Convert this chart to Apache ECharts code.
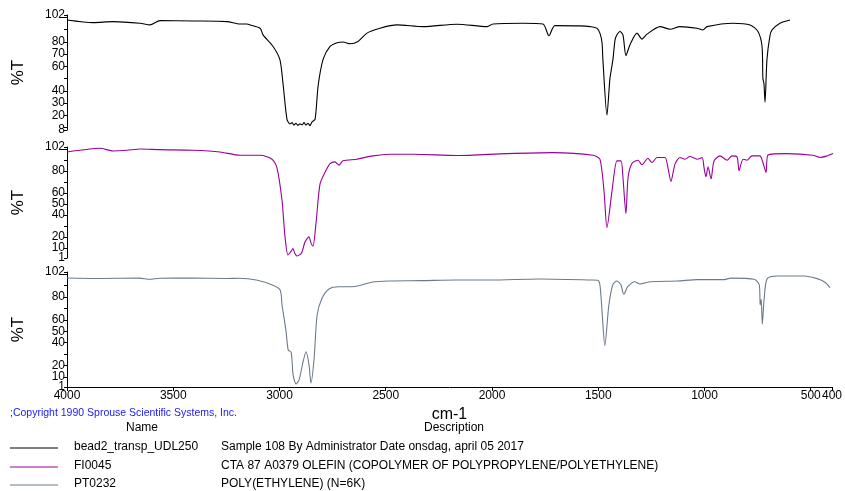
<!DOCTYPE html>
<html>
<head>
<meta charset="utf-8">
<script src="https://cdn.jsdelivr.net/npm/echarts@6/dist/echarts.min.js"></script>
<style>html,body{margin:0;padding:0;background:#fff}#c{width:845px;height:491px}</style>
</head>
<body>
<div id="c"></div>
<script>
// ---- data: [wavenumber cm-1, %T] ----
const beadSpectrum = [
 [4000,97.9],[3878,95.8],[3784,96.6],[3658,95.3],[3611,93.9],[3564,97.4],[3409,97.1],[3250,96.6],
 [3189,94.7],[3156,94.7],[3142,93.9],[3095,91.2],[3081,85.8],[3034,76.3],[3002,65.5],[2988,46.9],
 [2969,16.9],[2955,12.9],[2945,14],[2936,12],[2927,13.5],[2918,11.8],[2908,13],[2898,12.2],[2889,14],
 [2880,12],[2870,13.5],[2861,11.5],[2852,14.5],[2837,16.9],[2823,43.9],[2800,65.5],[2767,76.3],
 [2734,79.3],[2706,79.9],[2673,78.5],[2636,80.4],[2594,87.2],[2533,91.2],[2453,93.9],[2331,92.5],
 [2172,94.5],[2031,92.5],[2003,94.7],[1863,95.3],[1769,94.7],[1741,85],[1713,93.3],[1595,93.1],
 [1548,92.5],[1516,91.2],[1502,87.2],[1492,79.3],[1488,65.5],[1469,20.2],[1455,50],[1441,65.5],
 [1431,81.7],[1422,85.8],[1408,88.5],[1394,85.8],[1380,68.8],[1361,77.7],[1328,87.2],[1305,82.3],
 [1281,86.4],[1220,92.5],[1173,90.4],[1127,92.5],[1047,91.2],[1019,89.8],[1000,92.5],[878,95.3],
 [798,93.9],[761,88.5],[742,76.3],[738,50],[733,46],[728,30.7],[719,65.5],[705,85],[695,89.8],
 [658,95.3],[611,97.9]
];
const fi0045Spectrum = [
 [4000,97.5],[3939,99],[3845,100.8],[3784,98.4],[3719,99],[3658,100.2],[3564,99.6],[3409,99],
 [3283,97.5],[3189,94.5],[3095,94.5],[3039,90.9],[3016,83.3],[2992,53.3],[2978,20.2],[2964,3.7],
 [2950,7],[2941,9.7],[2932,5],[2922,2.8],[2908,4],[2898,6.7],[2884,15.7],[2866,20.2],[2857,15],
 [2847,11.8],[2833,32.3],[2814,68.4],[2791,78.8],[2767,86.9],[2744,88.5],[2725,85.5],[2706,89.4],
 [2641,90.9],[2566,93.9],[2486,95.4],[2378,95.4],[2172,94.2],[1938,96],[1722,96.9],[1534,94.5],
 [1502,90.9],[1483,62.3],[1469,28.7],[1445,62.3],[1422,89.4],[1403,89.4],[1394,74.3],[1380,41.3],
 [1370,74.3],[1352,86.9],[1323,90],[1305,85.8],[1277,91.8],[1258,87.9],[1234,92.4],[1197,92.4],
 [1183,83.3],[1169,70.7],[1150,86.4],[1127,92.4],[1103,90.9],[1080,93.3],[1047,90.9],[1023,92.4],
 [1014,83.3],[1005,74.9],[995,84],[981,72.9],[967,89.4],[939,93.9],[906,90],[883,93.9],[859,93],
 [850,80.4],[831,90.9],[813,90],[789,93.9],[752,93.9],[738,87.9],[723,78.8],[714,94.8],[625,96],
 [503,94.5],[470,92.4],[438,93.9],[409,96]
];
const pt0232Spectrum = [
 [4000,96.7],[3845,96.3],[3658,96.6],[3611,95.6],[3564,96.5],[3409,96.6],[3250,96.3],[3189,96.5],
 [3109,95],[3034,90.6],[2997,86.2],[2988,73],[2969,49.6],[2959,33.5],[2945,31.5],[2936,11.6],
 [2922,3.7],[2908,7.2],[2889,23.2],[2875,32],[2861,20.3],[2852,4.3],[2837,26.2],[2823,64.2],
 [2800,78.9],[2767,87.1],[2720,89.1],[2659,89.1],[2627,90],[2566,93],[2486,94.1],[2331,94.4],
 [2172,95],[2003,95],[1783,95.9],[1534,95],[1502,94.7],[1492,90.6],[1483,70],[1469,37.3],[1450,73],
 [1431,91],[1413,94.1],[1394,91],[1380,82.4],[1361,89.1],[1328,93.5],[1305,91.5],[1253,93.5],
 [1127,94.1],[1033,95.3],[906,95.3],[878,96.6],[766,95.6],[742,90.6],[738,73],[733,78],[728,56.1],
 [719,78.9],[705,96.2],[658,98.5],[531,98.5],[470,96.2],[433,93],[409,88.2]
];

const xTicks = [4000,3500,3000,2500,2000,1500,1000,500,400];
const yTicksTop = [8,10,20,30,40,50,60,70,80,90,100,102];
const yLabelsTop = [8,20,30,40,60,70,80,102];
const yTicksLow = [1,10,20,30,40,50,60,70,80,90,100,102];
const yLabelsLow = [20,40,50,60,80,102];
const yLabelsLowExtra = [10,1];   // each drawn on its own label-only axis

const seriesNames = ['bead2_transp_UDL250','FI0045','PT0232'];
const seriesDescs = ['Sample 108 By Administrator Date onsdag, april 05 2017',
  'CTA 87 A0379 OLEFIN (COPOLYMER OF POLYPROPYLENE/POLYETHYLENE)',
  'POLY(ETHYLENE) (N=6K)'];
const seriesColors = ['#000000','#990099','#6a7b8c'];

// ---- chart ----
const FONT = 'Liberation Sans, Arial, sans-serif';
const chart = echarts.init(document.getElementById('c'), null, {renderer:'canvas'});
const grids = [
  {left:67, width:768, top:15, height:115},
  {left:67, width:768, top:147, height:111},
  {left:67, width:768, top:272, height:115}
];
const xAxes = [0,1,2].map(i => {
  const last = i === 2;
  return {
    type:'value', gridIndex:i, min:400, max:4000, inverse:true,
    show: last,
    axisLine:{show:last, onZero:false, lineStyle:{color:'#000', width:1}},
    axisTick:{show:last, length:4, customValues:xTicks, lineStyle:{color:'#000'}},
    axisLabel:{show:last, customValues:xTicks, hideOverlap:false, formatter:v => String(v),
               color:'#000', fontSize:12, fontFamily:FONT, margin:3},
    splitLine:{show:false},
    name: last ? 'cm-1' : '', nameLocation:'middle', nameGap:20,
    nameTextStyle:{color:'#000', fontSize:16, fontFamily:FONT}
  };
});
const labelStyle = {color:'#000', fontSize:12, fontFamily:FONT, margin:2, formatter:v => String(v)};
const yAxes = [0,1,2].map(i => {
  const ticks = i === 0 ? yTicksTop : yTicksLow;
  const labels = i === 0 ? yLabelsTop : yLabelsLow;
  return {
    type:'value', gridIndex:i, position:'left', min: i === 0 ? 8 : 1, max:102,
    axisLine:{show:true, onZero:false, lineStyle:{color:'#000', width:1}},
    axisTick:{show:true, length:3, customValues:ticks, lineStyle:{color:'#000'}},
    axisLabel:Object.assign({customValues:labels, hideOverlap:false}, labelStyle),
    splitLine:{show:false},
    name:'%T', nameLocation:'middle', nameGap:40, nameRotate:90,
    nameTextStyle:{color:'#000', fontSize:17, fontFamily:FONT}
  };
});
// extra label-only axes for the crowded low labels of the lower panels
[1,2].forEach(i => {
  yLabelsLowExtra.forEach(v => {
    yAxes.push({
      type:'value', gridIndex:i, position:'left', offset:0, min:1, max:102,
      axisLine:{show:false}, axisTick:{show:false}, splitLine:{show:false},
      axisLabel:Object.assign({customValues:[v], showMinLabel:true}, labelStyle)
    });
  });
});
const spectra = [beadSpectrum, fi0045Spectrum, pt0232Spectrum];
const series = spectra.map((d,i) => ({
  type:'line', name:seriesNames[i], xAxisIndex:i, yAxisIndex:i, data:d,
  showSymbol:false, smooth:0.25, lineStyle:{color:seriesColors[i], width:1.1}, silent:true
}));

const graphics = [
  {type:'text', left:10, top:408, style:{text:';Copyright 1990 Sprouse Scientific Systems, Inc.', fill:'#2020f0', font:'10.5px '+FONT}},
  {type:'text', left:126, top:422, style:{text:'Name', fill:'#000', font:'12px '+FONT}},
  {type:'text', left:424, top:422, style:{text:'Description', fill:'#000', font:'12px '+FONT}}
];
[448,467,485].forEach((y,i) => {
  graphics.push({type:'line', shape:{x1:10,y1:y,x2:58,y2:y}, style:{stroke:seriesColors[i], lineWidth:1}});
  graphics.push({type:'text', left:74, top:y-7, style:{text:seriesNames[i], fill:'#000', font:'12px '+FONT}});
  graphics.push({type:'text', left:221, top:y-7, style:{text:seriesDescs[i], fill:'#000', font:'12px '+FONT}});
});

chart.setOption({
  animation:false,
  backgroundColor:'#fff',
  grid:grids, xAxis:xAxes, yAxis:yAxes, series:series, graphic:graphics
});
</script>
</body>
</html>
